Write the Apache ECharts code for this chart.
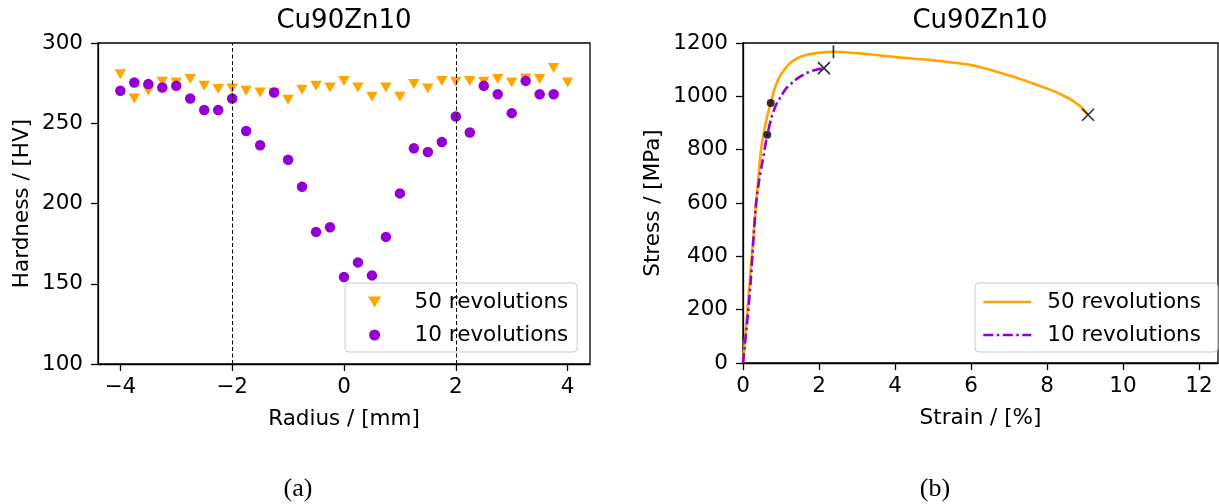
<!DOCTYPE html>
<html><head><meta charset="utf-8">
<script src="https://cdn.jsdelivr.net/npm/echarts@6/dist/echarts.min.js"></script>
<style>html,body{margin:0;padding:0;background:#fff}#c{width:1219px;height:504px}</style>
</head><body><div id="c"></div>
<script>
// ---- data ----
const radius50 = [-4,-3.75,-3.5,-3.25,-3,-2.75,-2.5,-2.25,-2,-1.75,-1.5,-1.25,-1,-0.75,-0.5,-0.25,0,0.25,0.5,0.75,1,1.25,1.5,1.75,2,2.25,2.5,2.75,3,3.25,3.5,3.75,4];
const hardness50 = [280.6,265.4,270.2,275.8,275.4,277.5,273.3,271.3,271.7,270.2,269.2,269,264.6,270.8,273.3,272.3,276.4,272.3,266.5,272.3,266.5,274.4,271.7,276.4,275.8,276.4,275.8,277.5,275.4,277.9,277.5,284.4,275.4];
const radius10 = [-4,-3.75,-3.5,-3.25,-3,-2.75,-2.5,-2.25,-2,-1.75,-1.5,-1.25,-1,-0.75,-0.5,-0.25,0,0.25,0.5,0.75,1,1.25,1.5,1.75,2,2.25,2.5,2.75,3,3.25,3.5,3.75];
const hardness10 = [270.2,275.4,274.4,272.3,273.3,265.4,258.3,258.3,265.4,245.2,236.3,269.2,227.3,210.4,182.3,185.2,154.2,163.3,155.2,179.2,206.3,234.4,232.1,238.3,254.2,244.2,273.3,268.1,256.3,276.4,268.1,268.1];
const zoneBounds = [-2, 2];

const strain50 = [0,0.1,0.2,0.3,0.4,0.47,0.55,0.64,0.73,0.86,1.0,1.21,1.4,1.65,2.0,2.38,3.0,3.5,4.1,4.6,5.0,5.5,6.0,6.5,7.0,7.5,8.05,8.4,8.67,8.9,9.08];
const stress50 = [0,170,345,520,690,795,865,927,975,1040,1082,1121,1140,1155,1163,1167,1162,1155,1146,1140,1135,1127,1117,1100,1078,1055,1027,1005,984,960,931];
const strain10 = [0,0.1,0.2,0.33,0.42,0.51,0.64,0.75,0.86,1.0,1.12,1.3,1.47,1.65,1.82,2.0,2.13];
const stress10 = [0,140,300,577,680,753,856,920,965,1000,1027,1052,1071,1086,1096,1102,1106];
const yieldPoints = [[0.73,975],[0.64,856]];
const fracturePoints = [[2.13,1106],[9.08,931]];
const utsPoint = [[2.38,1167]];

const radiusTicks = [-4,-2,0,2,4];
const strainTicks = [0,2,4,6,8,10,12];
const names = ['50 revolutions','10 revolutions'];
const titleText = 'Cu90Zn10';

// ---- chart ----
const ORANGE = '#FFA500', VIOLET = '#9400D3';
const FONT = 'DejaVu Sans';
const FS = 21.5;
const zip = (a,b) => a.map((v,i)=>[v,b[i]]);
const plain = v => String(v).replace('-', '\u2212');

const axisCommon = {
  axisLine:{show:true, onZero:false, lineStyle:{color:'#000', width:1.3}},
  axisTick:{show:true, inside:false, length:7, lineStyle:{color:'#000', width:1.3}},
  splitLine:{show:false},
  nameTextStyle:{fontFamily:FONT, fontSize:FS, color:'#000'},
};
const labelStyle = (margin, extra) => Object.assign({formatter:plain, fontFamily:FONT, fontSize:FS, color:'#000', margin:margin}, extra||{});

const chart = echarts.init(document.getElementById('c'), null, {renderer:'canvas'});
const legendBase = {
  orient:'vertical', top:283, itemGap:9,
  borderColor:'#cccccc', borderWidth:1, borderRadius:4,
  backgroundColor:'rgba(255,255,255,0.8)',
  textStyle:{fontFamily:FONT, fontSize:FS, color:'#000', lineHeight:24}
};
chart.setOption({
  animation:false,
  backgroundColor:'#fff',
  grid:[
    {left:98, right:629, top:43, bottom:140, show:true, borderColor:'#000', borderWidth:1.3, backgroundColor:'transparent'},
    {left:743, right:1, top:43, bottom:141, show:true, borderColor:'#000', borderWidth:1.3, backgroundColor:'transparent'}
  ],
  xAxis:[
    Object.assign({}, axisCommon, {
      type:'value', gridIndex:0, min:-4.4, max:4.4,
      name:'Radius / [mm]', nameLocation:'middle', nameGap:44,
      axisTick:Object.assign({}, axisCommon.axisTick, {customValues:radiusTicks}),
      axisLabel:labelStyle(12, {customValues:radiusTicks})
    }),
    Object.assign({}, axisCommon, {
      type:'value', gridIndex:1, min:0, max:12.5,
      name:'Strain / [%]', nameLocation:'middle', nameGap:44,
      axisTick:Object.assign({}, axisCommon.axisTick, {customValues:strainTicks}),
      axisLabel:labelStyle(12, {customValues:strainTicks})
    })
  ],
  yAxis:[
    Object.assign({}, axisCommon, {
      type:'value', gridIndex:0, min:100, max:300, interval:50,
      name:'Hardness / [HV]', nameLocation:'middle', nameGap:65, nameRotate:90,
      axisLabel:labelStyle(15)
    }),
    Object.assign({}, axisCommon, {
      type:'value', gridIndex:1, min:0, max:1200, interval:200,
      name:'Stress / [MPa]', nameLocation:'middle', nameGap:79, nameRotate:90,
      axisLabel:labelStyle(15)
    })
  ],
  legend:[
    Object.assign({}, legendBase, {
      left:345, padding:[7,9,5,23], itemWidth:40, itemHeight:11,
      textStyle:Object.assign({}, legendBase.textStyle, {padding:[0,0,0,15]}),
      data:[{name:names[0]},{name:names[1]}]
    }),
    Object.assign({}, legendBase, {
      left:975, padding:[7,10,5,7], itemWidth:48, itemHeight:14,
      itemStyle:{opacity:0},
      lineStyle:{width:2.6},
      textStyle:Object.assign({}, legendBase.textStyle, {padding:[0,0,0,11]}),
      data:[{name:names[0]+' '},{name:names[1]+' '}]
    })
  ],
  series:[
    {
      type:'scatter', name:names[0], xAxisIndex:0, yAxisIndex:0,
      data:zip(radius50, hardness50),
      symbol:'path://M0,0L12,0L6,10Z', symbolSize:[11.5,10],
      itemStyle:{color:ORANGE, opacity:1}, z:2,
      markLine:{
        silent:true, symbol:'none', label:{show:false},
        lineStyle:{color:'#000', type:[4,2.5], width:1},
        data:zoneBounds.map(v=>({xAxis:v}))
      }
    },
    {
      type:'scatter', name:names[1], xAxisIndex:0, yAxisIndex:0,
      data:zip(radius10, hardness10),
      symbol:'circle', symbolSize:10.5,
      itemStyle:{color:VIOLET, opacity:1}, z:3
    },
    {
      type:'line', name:names[0]+' ', xAxisIndex:1, yAxisIndex:1,
      data:zip(strain50, stress50), showSymbol:false, symbol:'none', smooth:0.3,
      lineStyle:{color:ORANGE, width:2.6}, itemStyle:{color:ORANGE}, z:2
    },
    {
      type:'line', name:names[1]+' ', xAxisIndex:1, yAxisIndex:1,
      data:zip(strain10, stress10), showSymbol:false, symbol:'none', smooth:0.3,
      lineStyle:{color:VIOLET, width:2.6, type:[10,3.5,2.5,3.5]}, itemStyle:{color:VIOLET}, z:3
    },
    {
      type:'scatter', xAxisIndex:1, yAxisIndex:1, data:yieldPoints,
      symbol:'circle', symbolSize:8, itemStyle:{color:'#000'}, z:5
    },
    {
      type:'scatter', xAxisIndex:1, yAxisIndex:1, data:fracturePoints,
      symbol:'path://M0,0L10,10M10,0L0,10', symbolSize:12,
      itemStyle:{color:'transparent', borderColor:'#000', borderWidth:1.7}, z:5
    },
    {
      type:'scatter', xAxisIndex:1, yAxisIndex:1, data:utsPoint,
      symbol:'rect', symbolSize:[1.7,13], itemStyle:{color:'#000'}, z:5
    }
  ],
  graphic:[
    {type:'text', x:344, y:21, style:{text:titleText, fill:'#000', font:'26px "DejaVu Sans"', align:'center', verticalAlign:'middle'}},
    {type:'text', x:980, y:21, style:{text:titleText, fill:'#000', font:'26px "DejaVu Sans"', align:'center', verticalAlign:'middle'}},
    {type:'text', x:298, y:489, style:{text:'(a)', fill:'#000', font:'26px "Liberation Serif"', align:'center', verticalAlign:'middle'}},
    {type:'text', x:935, y:489, style:{text:'(b)', fill:'#000', font:'26px "Liberation Serif"', align:'center', verticalAlign:'middle'}}
  ]
});
</script></body></html>
